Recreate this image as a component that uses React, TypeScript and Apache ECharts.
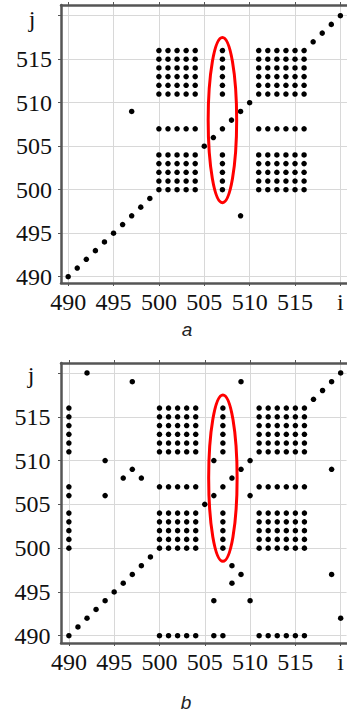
import React, { useEffect, useRef } from 'react';
import * as echarts from 'echarts';

// Tick values on both axes (520 is shown as the axis letter)
const TICKS = [490, 495, 500, 505, 510, 515, 520];
// Coordinates that form the block pattern (every pair of them is a point)
const BLOCK = [500, 501, 502, 503, 504, 507, 511, 512, 513, 514, 515, 516];
// Points on the diagonal i = j
const DIAGONAL = [490, 491, 492, 493, 494, 495, 496, 497, 498, 499, 505, 506, 508, 509, 510, 517, 518, 519, 520];
// Extra points of panel a
const EXTRA_A = [[497, 509], [509, 497]];
// Extra points of panel b
const EXTRA_B = [
  [490, 500], [490, 501], [490, 502], [490, 503], [490, 504], [490, 506], [490, 507],
  [490, 511], [490, 512], [490, 513], [490, 514], [490, 515], [490, 516],
  [500, 490], [501, 490], [502, 490], [503, 490], [504, 490], [506, 490], [507, 490],
  [511, 490], [512, 490], [513, 490], [514, 490], [515, 490], [516, 490],
  [492, 520], [520, 492], [497, 519], [519, 497], [509, 519], [519, 509],
  [494, 510], [510, 494], [494, 506], [506, 494], [496, 508], [508, 496],
  [497, 509], [509, 497], [498, 508], [508, 498], [506, 510], [510, 506],
];
// Red ellipse: centre i, centre j, radius along i, radius along j
const ELLIPSE = [[507, 508, 1.57, 9.5]];

const SERIF = 'Liberation Serif';
const SANS = 'Liberation Sans';
const AXIS_COLOR = '#555';

export default function App() {
  const ref = useRef<HTMLDivElement>(null);
  useEffect(() => {
    if (!ref.current) return;
    const chart = echarts.init(ref.current, undefined, { renderer: 'svg' });

    const blockPts = BLOCK.flatMap((i) => BLOCK.map((j) => [i, j]));
    const diagPts = DIAGONAL.map((v) => [v, v]);

    const bottomX = (gridIndex: number, min: number, max: number) => ({
      type: 'value', gridIndex, position: 'bottom', min, max,
      axisLine: { show: true, lineStyle: { color: AXIS_COLOR, width: 2.5 } },
      axisTick: { show: true, length: 3, customValues: TICKS, lineStyle: { color: AXIS_COLOR } },
      axisLabel: {
        customValues: TICKS, margin: 7, color: '#111', fontFamily: SERIF, fontSize: 24,
        formatter: (v: number) => (v === 520 ? 'i' : String(v)),
      },
      splitLine: { show: true, lineStyle: { color: '#d8d8d8', width: 1 } },
    });
    const topX = (gridIndex: number, min: number, max: number) => ({
      type: 'value', gridIndex, position: 'top', min, max,
      axisLine: { show: true, lineStyle: { color: AXIS_COLOR, width: 2.5 } },
      axisTick: { show: true, length: 3, customValues: TICKS, lineStyle: { color: AXIS_COLOR } },
      axisLabel: { show: false },
      splitLine: { show: false },
    });
    const leftY = (gridIndex: number, min: number, max: number, margin: number) => ({
      type: 'value', gridIndex, min, max,
      axisLine: { show: true, lineStyle: { color: AXIS_COLOR, width: 2.5 } },
      axisTick: { show: true, length: 3, customValues: TICKS, lineStyle: { color: AXIS_COLOR } },
      axisLabel: {
        customValues: TICKS, margin, align: 'center', color: '#111', fontFamily: SERIF, fontSize: 24,
        formatter: (v: number) => (v === 520 ? '' : String(v)),
      },
      splitLine: { show: true, lineStyle: { color: '#d8d8d8', width: 1 } },
    });

    const ellipseSeries = (xAxisIndex: number, yAxisIndex: number) => ({
      type: 'custom', xAxisIndex, yAxisIndex, data: ELLIPSE, clip: false, z: 5,
      renderItem: (_p: any, api: any) => {
        const c = api.coord([api.value(0), api.value(1)]);
        const s = api.size([api.value(2), api.value(3)]);
        return {
          type: 'ellipse',
          shape: { cx: c[0], cy: c[1], rx: s[0], ry: s[1] },
          style: { fill: 'none', stroke: '#ff0000', lineWidth: 3 },
        };
      },
    });

    const label = (text: string, x: number, y: number, family: string, size: number, italic: boolean, fill: string) => ({
      type: 'text', x, y,
      style: { text, fontFamily: family, fontSize: size, fontStyle: italic ? 'italic' : 'normal', fill, align: 'center', verticalAlign: 'middle' },
    });

    chart.setOption({
      animation: false,
      backgroundColor: '#fff',
      grid: [
        { left: 61, top: 5, width: 290, height: 278 },
        { left: 61, top: 363, width: 290, height: 280 },
      ],
      xAxis: [
        bottomX(0, 489.21, 520.73),
        topX(0, 489.21, 520.73),
        bottomX(1, 489.13, 520.65),
        topX(1, 489.13, 520.65),
      ],
      yAxis: [leftY(0, 489.28, 521.23, 27), leftY(1, 489.17, 521.14, 28.5)],
      series: [
        {
          type: 'scatter', xAxisIndex: 0, yAxisIndex: 0, symbolSize: 5.5,
          itemStyle: { color: '#000', opacity: 1 }, data: [...blockPts, ...diagPts, ...EXTRA_A],
        },
        ellipseSeries(0, 0),
        {
          type: 'scatter', xAxisIndex: 2, yAxisIndex: 1, symbolSize: 5.5,
          itemStyle: { color: '#000', opacity: 1 }, data: [...blockPts, ...diagPts, ...EXTRA_B],
        },
        ellipseSeries(2, 1),
      ],
      graphic: [
        label('j', 32, 19, SERIF, 24, false, '#111'),
        label('j', 31, 375, SERIF, 24, false, '#111'),
        label('a', 187, 329, SANS, 19, true, '#222'),
        label('b', 186, 702, SANS, 19, true, '#222'),
      ],
    });
    return () => chart.dispose();
  }, []);
  return <div ref={ref} style={{ position: 'absolute', left: 0, top: 0, width: 347, height: 714 }} />;
}
